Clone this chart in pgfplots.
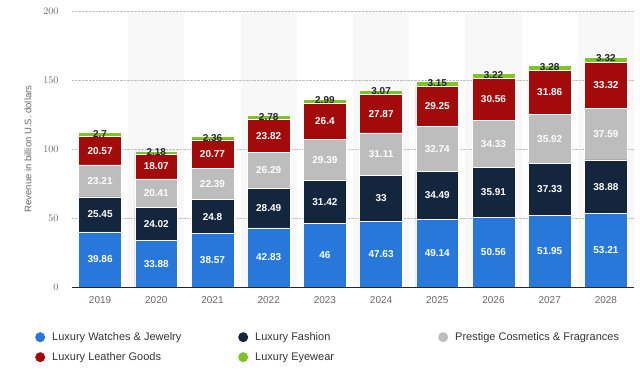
\documentclass[border=0pt]{standalone}
\usepackage{pgfplots}
\pgfplotsset{compat=1.18}
\usepackage{fontspec}
\setmainfont{Liberation Sans}
\definecolor{cBlue}{HTML}{2878DC}
\definecolor{cNavy}{HTML}{13263E}
\definecolor{cGray}{HTML}{BDBDBD}
\definecolor{cRed}{HTML}{A30B0B}
\definecolor{cGreen}{HTML}{80C228}
\definecolor{tickgray}{HTML}{666666}
\definecolor{legtext}{HTML}{333333}
\definecolor{band}{HTML}{F8F8F8}
\pgfplotsset{
  lbl/.style={draw=none, mark=none, nodes near coords={\pgfplotspointmeta}, point meta=explicit symbolic,
    every node near coord/.append style={font=\bfseries\fontsize{10}{12}\selectfont, text=white, anchor=center, inner sep=0pt}},
  lbld/.style={draw=none, mark=none, nodes near coords={\pgfplotspointmeta}, point meta=explicit symbolic,
    every node near coord/.append style={font=\bfseries\fontsize{10}{12}\selectfont, text=black!85, anchor=center, inner sep=0pt}}}
\begin{document}
\begin{tikzpicture}
\begin{axis}[
  scale only axis, hide axis,
  width=562pt, height=276pt,
  xmin=-0.5, xmax=9.5, ymin=0, ymax=200,
]
\fill[band] (axis cs:0.5,0) rectangle (axis cs:1.5,200);
\fill[band] (axis cs:2.5,0) rectangle (axis cs:3.5,200);
\fill[band] (axis cs:4.5,0) rectangle (axis cs:5.5,200);
\fill[band] (axis cs:6.5,0) rectangle (axis cs:7.5,200);
\fill[band] (axis cs:8.5,0) rectangle (axis cs:9.5,200);
\end{axis}
\begin{axis}[
  scale only axis,
  width=562pt, height=276pt,
  xmin=-0.5, xmax=9.5, ymin=0, ymax=200,
  ybar stacked, bar width=0.76,
  xtick={0,1,2,3,4,5,6,7,8,9},
  xticklabels={2019,2020,2021,2022,2023,2024,2025,2026,2027,2028},
  ytick={0,50,100,150,200},
  ymajorgrids,
  grid style={densely dotted, black!25, line width=0.6pt},
  axis lines=left,
  x axis line style={-, draw=black!85, line width=0.9pt},
  y axis line style={draw=none},
  major tick length=0pt,
  xticklabel style={font=\fontsize{10}{12}\selectfont, text=tickgray, yshift=-6pt},
  yticklabel style={font=\fontsize{10}{12}\selectfont, text=tickgray, xshift=-10pt},
  ylabel={Revenue in billion U.S. dollars},
  every axis y label/.style={at={(rel axis cs:0,0.5)}, xshift=-44pt, rotate=90, anchor=center, font=\fontsize{9.5}{11}\selectfont, text=tickgray},
  legend columns=3,
  legend style={at={(axis description cs:0,0)}, anchor=north west, xshift=-37pt, yshift=-45pt,
    draw=none, fill=none, inner sep=0pt, row sep=10pt,
    font=\fontsize{11}{13}\selectfont, text=legtext,
    nodes={inner sep=0pt, text height=8pt, text depth=2pt},
    /tikz/every odd column/.append style={column sep=7pt},
    /tikz/every even column/.append style={column sep=5pt}},
  legend cell align=left,
  legend image code/.code={\fill[#1, draw=none] (0pt,0pt) circle (5pt);},
]
\coordinate (o) at (axis cs:-0.5,0);
\addplot[fill=cBlue, draw=white, line width=0.6pt] coordinates {
(0,39.86) (1,33.88) (2,38.57) (3,42.83) (4,46) (5,47.63) (6,49.14) (7,50.56) (8,51.95) (9,53.21)};
\addlegendentry{\makebox[181pt][l]{Luxury Watches \& Jewelry}}
\addplot[fill=cNavy, draw=white, line width=0.6pt] coordinates {
(0,25.45) (1,24.02) (2,24.8) (3,28.49) (4,31.42) (5,33) (6,34.49) (7,35.91) (8,37.33) (9,38.88)};
\addlegendentry{\makebox[178pt][l]{Luxury Fashion}}
\addplot[fill=cGray, draw=white, line width=0.6pt] coordinates {
(0,23.21) (1,20.41) (2,22.39) (3,26.29) (4,29.39) (5,31.11) (6,32.74) (7,34.33) (8,35.92) (9,37.59)};
\addlegendentry{Prestige Cosmetics \& Fragrances}
\addplot[fill=cRed, draw=white, line width=0.6pt] coordinates {
(0,20.57) (1,18.07) (2,20.77) (3,23.82) (4,26.4) (5,27.87) (6,29.25) (7,30.56) (8,31.86) (9,33.32)};
\addlegendentry{\makebox[181pt][l]{Luxury Leather Goods}}
\addplot[fill=cGreen, draw=white, line width=0.6pt] coordinates {
(0,2.7) (1,2.18) (2,2.36) (3,2.78) (4,2.99) (5,3.07) (6,3.15) (7,3.22) (8,3.28) (9,3.32)};
\addlegendentry{\makebox[178pt][l]{Luxury Eyewear}}
\end{axis}
% value labels, placed at the middle of each segment (top of the eyewear segment); baseline redrawn on top
\begin{axis}[
  scale only axis,
  width=562pt, height=276pt,
  xmin=-0.5, xmax=9.5, ymin=0, ymax=200,
  axis lines=left,
  x axis line style={-, draw=black!85, line width=0.9pt},
  y axis line style={draw=none},
  xtick=\empty, ytick=\empty,
]
\addplot[lbl] coordinates {
(0,19.93)[39.86] (1,16.94)[33.88] (2,19.285)[38.57] (3,21.415)[42.83] (4,23)[46]
(5,23.815)[47.63] (6,24.57)[49.14] (7,25.28)[50.56] (8,25.975)[51.95] (9,26.605)[53.21]};
\addplot[lbl] coordinates {
(0,52.585)[25.45] (1,45.89)[24.02] (2,50.97)[24.8] (3,57.075)[28.49] (4,61.71)[31.42]
(5,64.13)[33] (6,66.385)[34.49] (7,68.515)[35.91] (8,70.615)[37.33] (9,72.65)[38.88]};
\addplot[lbl] coordinates {
(0,76.915)[23.21] (1,68.105)[20.41] (2,74.565)[22.39] (3,84.465)[26.29] (4,92.115)[29.39]
(5,96.185)[31.11] (6,100.0)[32.74] (7,103.635)[34.33] (8,107.24)[35.92] (9,110.885)[37.59]};
\addplot[lbl] coordinates {
(0,98.805)[20.57] (1,87.345)[18.07] (2,96.145)[20.77] (3,109.52)[23.82] (4,120.01)[26.4]
(5,125.675)[27.87] (6,130.995)[29.25] (7,136.08)[30.56] (8,141.13)[31.86] (9,146.34)[33.32]};
\addplot[lbld] coordinates {
(0,111.1)[2.7] (1,97.9)[2.18] (2,108.2)[2.36] (3,123.5)[2.78] (4,135.5)[2.99]
(5,142.0)[3.07] (6,148.1)[3.15] (7,153.9)[3.22] (8,159.6)[3.28] (9,165.6)[3.32]};
\end{axis}
\pgfresetboundingbox
\path ([shift={(-72pt,-89pt)}]o) rectangle ([shift={(568pt,287pt)}]o);
\end{tikzpicture}
\end{document}
